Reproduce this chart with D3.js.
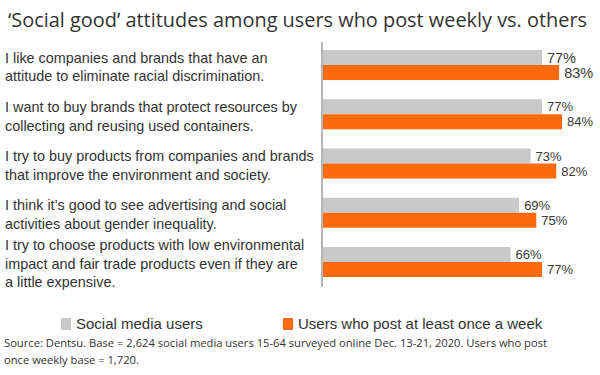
<!DOCTYPE html>
<html>
<head>
<meta charset="utf-8">
<script src="https://cdn.jsdelivr.net/npm/d3@7"></script>
<style>
  html, body { margin: 0; padding: 0; background: #fff; }
  svg { display: block; }
</style>
</head>
<body>
<div id="chart"></div>
<script>
(function () {

  // Data ---------------------------------------------------------
  const CATEGORIES = [
    ["I like companies and brands that have an", "attitude to eliminate racial discrimination."],
    ["I want to buy brands that protect resources by", "collecting and reusing used containers."],
    ["I try to buy products from companies and brands", "that improve the environment and society."],
    ["I think it\u2019s good to see advertising and social", "activities about gender inequality."],
    ["I try to choose products with low environmental", "impact and fair trade products even if they are", "a little expensive."]
  ];
  const SERIES = ["Social media users", "Users who post at least once a week"];
  const ALL_USERS = [77, 77, 73, 69, 66];
  const WEEKLY_POSTERS = [83, 84, 82, 75, 77];
  const COLORS = ["#c9c9c9", "#ff6a0d"];

  const TITLE = "\u2018Social good\u2019 attitudes among users who post weekly vs. others";
  const SOURCE = [
    "Source: Dentsu. Base = 2,624 social media users 15-64 surveyed online Dec. 13-21, 2020. Users who post",
    "once weekly base = 1,720."
  ];

  const W = 600, H = 375;

  const rows = CATEGORIES.map((lines, i) => ({
    id: i,
    lines,
    values: [ALL_USERS[i], WEEKLY_POSTERS[i]]
  }));

  const svg = d3.select("#chart").append("svg")
    .attr("width", W)
    .attr("height", H);

  // Title
  svg.append("text")
    .attr("x", 8)
    .attr("y", 27)
    .style("font-family", "'Open Sans', sans-serif")
    .style("font-size", "19.9px")
    .style("fill", "#333")
    .text(TITLE);

  // Scales -------------------------------------------------------
  const x = d3.scaleLinear()
    .domain([0, 100])
    .range([322, 322 + 285.7]);

  const y = d3.scaleBand()
    .domain(rows.map(d => d.id))
    .range([40.4, 286.6])
    .paddingInner(0.39)
    .paddingOuter(0.195);

  const ySub = d3.scaleBand()
    .domain(d3.range(SERIES.length))
    .range([0, y.bandwidth()]);

  // Axis line
  svg.append("g")
    .attr("transform", `translate(${x(0)},0)`)
    .call(d3.axisLeft(y).tickSize(0).tickFormat(""))
    .call(g => g.select(".domain")
      .attr("d", "M0,42V287")
      .attr("stroke", "#b5b5b5")
      .attr("stroke-width", 2));

  // Bars
  const group = svg.selectAll(".grp")
    .data(rows)
    .enter()
    .append("g")
    .attr("class", "grp")
    .attr("transform", d => `translate(0,${y(d.id)})`);

  group.selectAll("rect")
    .data(d => d.values.map((v, k) => ({ v, k, row: d.id })))
    .enter()
    .append("rect")
    .attr("x", x(0) + 1)
    .attr("y", d => ySub(d.k))
    .attr("width", d => x(d.v) - x(0) - 1)
    .attr("height", ySub.bandwidth())
    .attr("fill", d => COLORS[d.k]);

  // Value labels
  group.selectAll("text.val")
    .data(d => d.values.map((v, k) => ({ v, k, row: d.id })))
    .enter()
    .append("text")
    .attr("class", "val")
    .attr("x", d => x(d.v) + 5)
    .attr("y", d => ySub(d.k) + ySub.bandwidth() / 2)
    .attr("dy", "0.35em")
    .style("font-family", "'Liberation Sans', Arial, sans-serif")
    .style("font-size", d => d.row === 0 ? "14.5px" : "13px")
    .style("fill", "#3a3a3a")
    .text(d => d.v + "%");

  // Category labels
  const LH = 18.5;
  svg.selectAll(".cat")
    .data(rows)
    .enter()
    .append("text")
    .attr("class", "cat")
    .attr("y", d => y(d.id) + y.bandwidth() / 2 - (d.lines.length - 1) * LH / 2 + 7)
    .style("font-family", "'Liberation Sans', Arial, sans-serif")
    .style("font-size", "14.4px")
    .style("fill", "#333")
    .selectAll("tspan")
    .data(d => d.lines)
    .enter()
    .append("tspan")
    .attr("x", 5)
    .attr("dy", (d, i) => i === 0 ? 0 : LH)
    .text(d => d);

  // Legend
  const legendX = [61, 283];
  const legend = svg.selectAll(".leg")
    .data(SERIES)
    .enter()
    .append("g")
    .attr("class", "leg")
    .attr("transform", (d, i) => `translate(${legendX[i]},318)`);

  legend.append("rect")
    .attr("width", 10)
    .attr("height", 12)
    .attr("fill", (d, i) => COLORS[i]);

  legend.append("text")
    .attr("x", 15)
    .attr("y", 11)
    .style("font-family", "'Liberation Sans', Arial, sans-serif")
    .style("font-size", "15px")
    .style("fill", "#333")
    .text(d => d);

  // Source note
  svg.append("text")
    .style("font-family", "'Open Sans', sans-serif")
    .style("font-size", "11.2px")
    .style("fill", "#333")
    .selectAll("tspan")
    .data(SOURCE)
    .enter()
    .append("tspan")
    .attr("x", 4)
    .attr("y", (d, i) => 347 + i * 17)
    .text(d => d);

})();
</script>
</body>
</html>
